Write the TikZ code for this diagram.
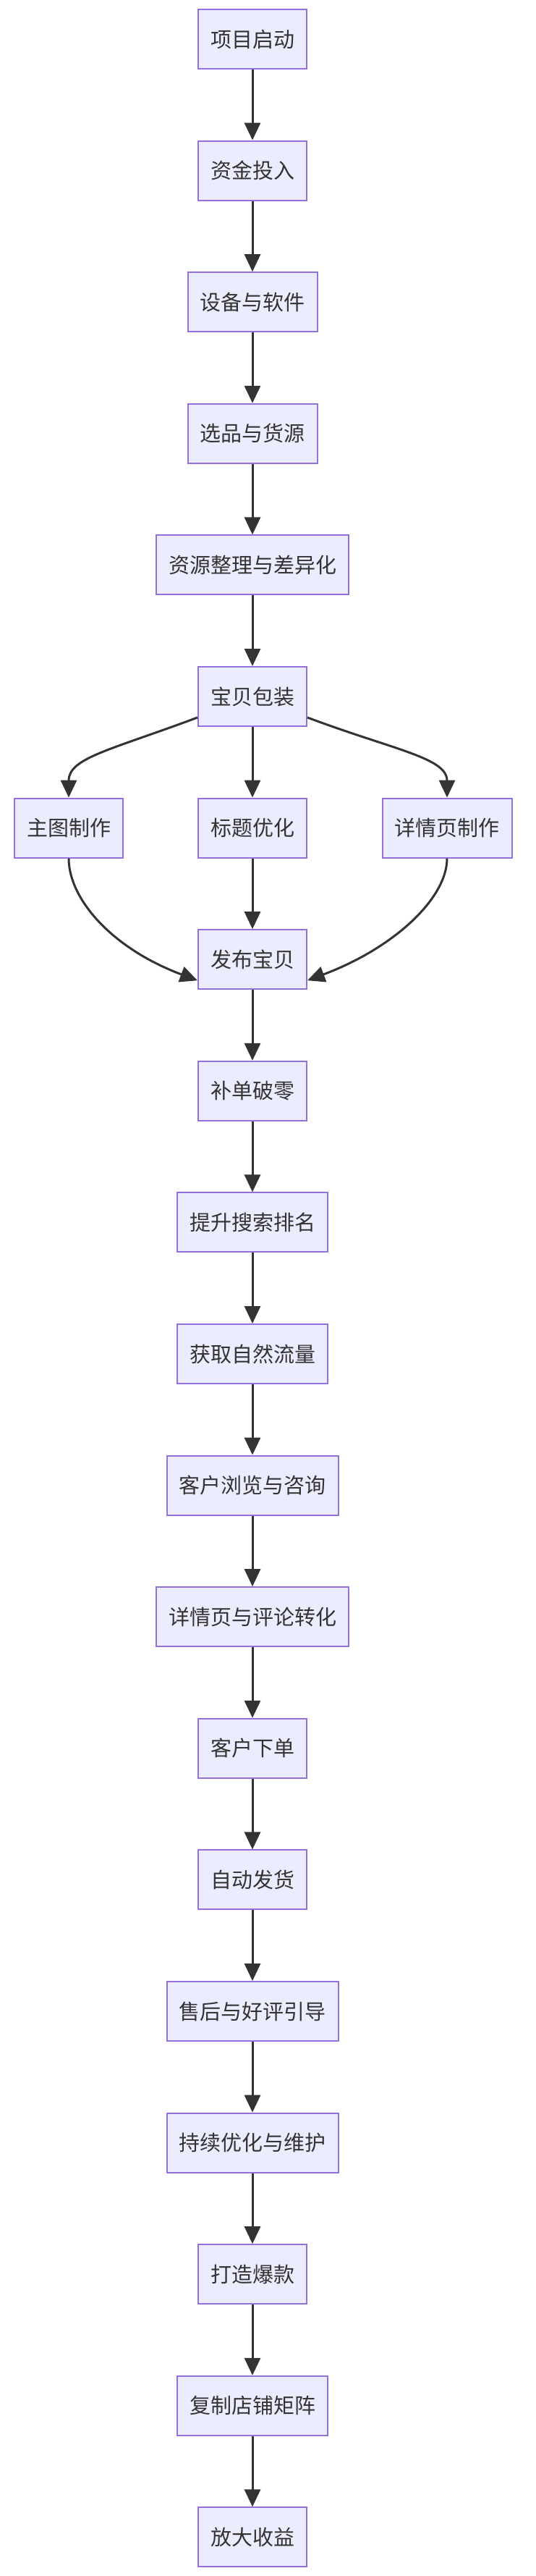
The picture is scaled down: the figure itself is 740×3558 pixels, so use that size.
\documentclass[tikz,border=0pt]{standalone}
\usepackage{fontspec}
\newfontfamily\cjk{Noto Sans CJK SC}
\usetikzlibrary{arrows.meta}
\definecolor{nfill}{HTML}{ECECFF}
\definecolor{ndraw}{HTML}{9370DB}
\definecolor{edge}{HTML}{333333}
\begin{document}
\begin{tikzpicture}[x=1pt,y=-1pt,
  box/.style={draw=ndraw,fill=nfill,line width=2pt,minimum height=82pt,inner xsep=17pt,font=\cjk\fontsize{29}{34}\selectfont,text=edge},
  arr/.style={draw=edge,line width=3pt,-{Triangle[length=24pt,width=22pt]}}]
\useasboundingbox (0,0) rectangle (740,3558);
\def\R#1{54+181.6*#1}
\node[box] (n0) at (349,{\R0}) {项目启动};
\node[box] (n1) at (349,{\R1}) {资金投入};
\node[box] (n2) at (349,{\R2}) {设备与软件};
\node[box] (n3) at (349,{\R3}) {选品与货源};
\node[box] (n4) at (349,{\R4}) {资源整理与差异化};
\node[box] (n5) at (349,{\R5}) {宝贝包装};
\node[box] (b1) at (95,{\R6}) {主图制作};
\node[box] (b2) at (349,{\R6}) {标题优化};
\node[box] (b3) at (618,{\R6}) {详情页制作};
\node[box] (n7) at (349,{\R7}) {发布宝贝};
\node[box] (n8) at (349,{\R8}) {补单破零};
\node[box] (n9) at (349,{\R9}) {提升搜索排名};
\node[box] (n10) at (349,{\R{10}}) {获取自然流量};
\node[box] (n11) at (349,{\R{11}}) {客户浏览与咨询};
\node[box] (n12) at (349,{\R{12}}) {详情页与评论转化};
\node[box] (n13) at (349,{\R{13}}) {客户下单};
\node[box] (n14) at (349,{\R{14}}) {自动发货};
\node[box] (n15) at (349,{\R{15}}) {售后与好评引导};
\node[box] (n16) at (349,{\R{16}}) {持续优化与维护};
\node[box] (n17) at (349,{\R{17}}) {打造爆款};
\node[box] (n18) at (349,{\R{18}}) {复制店铺矩阵};
\node[box] (n19) at (349,{\R{19}}) {放大收益};
\foreach \a/\b in {n0/n1,n1/n2,n2/n3,n3/n4,n4/n5,n5/b2,b2/n7,n7/n8,n8/n9,n9/n10,n10/n11,n11/n12,n12/n13,n13/n14,n14/n15,n15/n16,n16/n17,n17/n18,n18/n19}
  \draw[arr] (\a) -- (\b);
\draw[arr] ([yshift=-29pt]n5.west) .. controls +(-120,45) and +(0,-55) .. (b1.north);
\draw[arr] ([yshift=-29pt]n5.east) .. controls +(120,45) and +(0,-55) .. (b3.north);
\draw[arr] (b1.south) .. controls +(0,55) and +(-120,-45) .. ([yshift=-29pt]n7.west);
\draw[arr] (b3.south) .. controls +(0,55) and +(120,-45) .. ([yshift=-29pt]n7.east);
\end{tikzpicture}
\end{document}
